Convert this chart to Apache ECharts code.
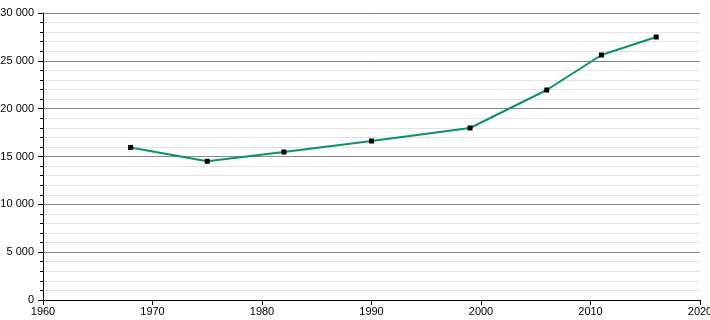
<!DOCTYPE html>
<html><head><meta charset="utf-8">
<script src="https://cdn.jsdelivr.net/npm/echarts@6/dist/echarts.min.js"></script>
<style>html,body{margin:0;padding:0;background:#fff}#c{width:710px;height:320px}</style>
</head><body><div id="c"></div>
<script>
const years = [1968, 1975, 1982, 1990, 1999, 2006, 2011, 2016];
const population = [15950, 14500, 15470, 16620, 17980, 21950, 25610, 27490];
const xTicks = [1960, 1970, 1980, 1990, 2000, 2010, 2020];
const yTicks = [0, 5000, 10000, 15000, 20000, 25000, 30000];

const fmt = v => String(v).replace(/\B(?=(\d{3})+(?!\d))/g, ' ');
const chart = echarts.init(document.getElementById('c'), null, {renderer: 'canvas'});
chart.setOption({
  animation: false,
  grid: {left: 43, right: 10, top: 13, bottom: 20, containLabel: false, outerBoundsMode: 'none'},
  xAxis: {
    type: 'value', min: xTicks[0], max: xTicks[xTicks.length - 1], interval: 10,
    axisLine: {show: true, onZero: false, lineStyle: {color: '#000', width: 1}},
    axisTick: {show: true, length: 5, lineStyle: {color: '#000'}},
    axisLabel: {color: '#000', fontFamily: 'Liberation Sans, Arial, sans-serif', fontSize: 11, margin: 6, formatter: v => String(v)},
    splitLine: {show: false}
  },
  yAxis: {
    type: 'value', min: yTicks[0], max: yTicks[yTicks.length - 1], interval: 5000,
    axisLine: {show: true, lineStyle: {color: '#000', width: 1}},
    axisTick: {show: true, length: 5, lineStyle: {color: '#000'}},
    minorTick: {show: true, splitNumber: 5, length: 3, lineStyle: {color: '#000'}},
    axisLabel: {color: '#000', fontFamily: 'Liberation Sans, Arial, sans-serif', fontSize: 11, margin: 9, formatter: fmt},
    splitLine: {show: true, lineStyle: {color: '#888', width: 1}},
    minorSplitLine: {show: true, lineStyle: {color: '#e2e2e2', width: 1}}
  },
  series: [{
    type: 'line',
    data: years.map((y, i) => [y, population[i]]),
    lineStyle: {color: '#0a9170', width: 2},
    symbol: 'rect', symbolSize: 5,
    itemStyle: {color: '#000'},
    z: 5
  }]
});
</script></body></html>
